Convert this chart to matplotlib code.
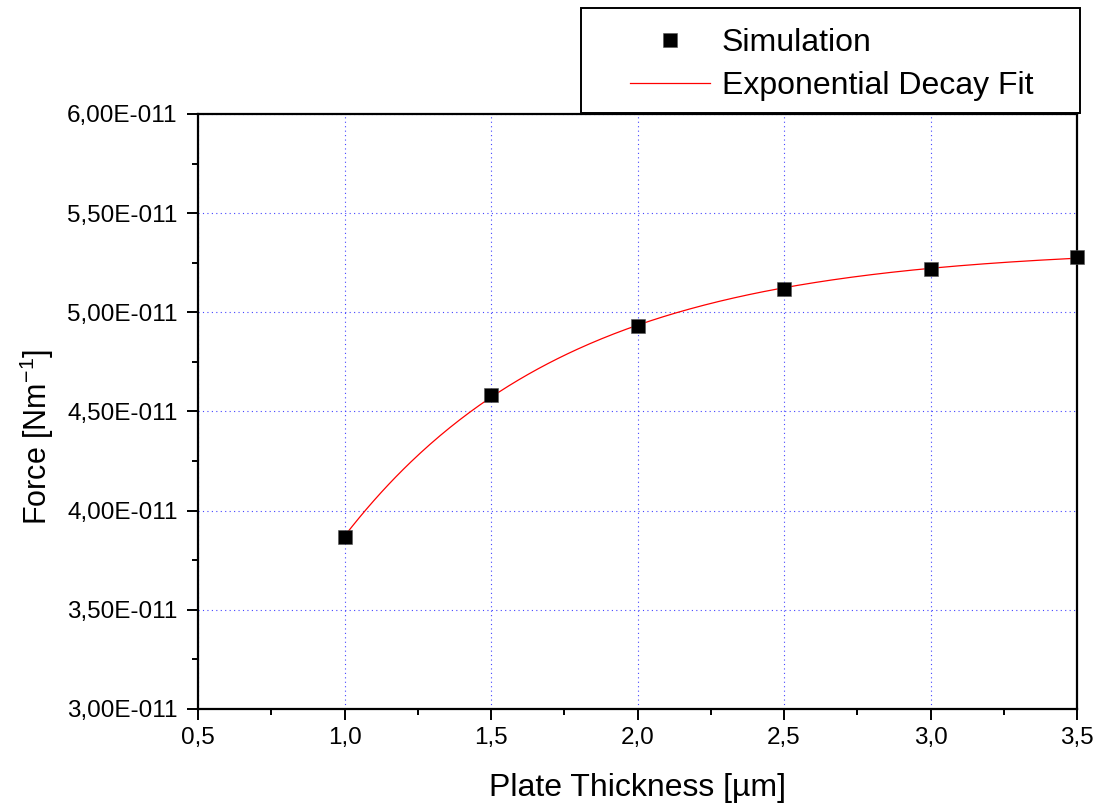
import numpy as np
import matplotlib
matplotlib.use("Agg")
import matplotlib.pyplot as plt
from matplotlib.ticker import FuncFormatter, MultipleLocator
from matplotlib.patches import Rectangle

plt.rcParams["font.family"] = ["Liberation Sans", "DejaVu Sans"]
plt.rcParams["mathtext.default"] = "regular"

# Simulated force versus plate thickness
thickness = [1.0, 1.5, 2.0, 2.5, 3.0, 3.5]          # µm
force = [3.869e-11, 4.581e-11, 4.929e-11, 5.118e-11, 5.221e-11, 5.279e-11]  # N/m

x_ticks = [0.5, 1.0, 1.5, 2.0, 2.5, 3.0, 3.5]
y_ticks = [3.0e-11, 3.5e-11, 4.0e-11, 4.5e-11, 5.0e-11, 5.5e-11, 6.0e-11]


def fit_exp_decay(x, y):
    """Least-squares fit of y = y0 + A*exp(-x/t)."""
    x = np.asarray(x)
    y = np.asarray(y)
    best = None
    for t in np.linspace(0.2, 3.0, 2801):
        M = np.column_stack([np.ones_like(x), np.exp(-x / t)])
        coef, *_ = np.linalg.lstsq(M, y, rcond=None)
        res = np.sum((M @ coef - y) ** 2)
        if best is None or res < best[0]:
            best = (res, coef[0], coef[1], t)
    return best[1:]


y0, A, t1 = fit_exp_decay(thickness, force)
x_fit = np.linspace(thickness[0], thickness[-1], 300)
y_fit = y0 + A * np.exp(-x_fit / t1)

fig = plt.figure(figsize=(11.03, 8.09), dpi=100)
ax = fig.add_axes([198 / 1103, 100 / 809, 879 / 1103, 595 / 809])

line_fit, = ax.plot(x_fit, y_fit, color="red", lw=0.9, zorder=3,
                    label="Exponential Decay Fit")
pts, = ax.plot(thickness, force, ls="none", marker="s", ms=9.5,
               color="black", mec="#555555", mew=0.4, zorder=4,
               clip_on=False, label="Simulation")

ax.set_xlim(x_ticks[0], x_ticks[-1])
ax.set_ylim(y_ticks[0], y_ticks[-1])
ax.set_xticks(x_ticks)
ax.set_yticks(y_ticks)
ax.xaxis.set_minor_locator(MultipleLocator(0.25))
ax.yaxis.set_minor_locator(MultipleLocator(0.25e-11))


def sci_comma(v, pos):
    if v == 0:
        return "0"
    e = int(np.floor(np.log10(abs(v)) + 1e-9))
    m = v / 10 ** e
    return f"{m:.2f}".replace(".", ",") + f"E{e:+04d}"


ax.yaxis.set_major_formatter(FuncFormatter(sci_comma))
ax.xaxis.set_major_formatter(FuncFormatter(lambda v, p: f"{v:.1f}".replace(".", ",")))

ax.grid(True, which="major", color="#3030ff", lw=0.8, ls=(0, (1, 3)), alpha=0.9)
ax.set_axisbelow(True)

for s in ax.spines.values():
    s.set_linewidth(1.6)
ax.tick_params(which="major", direction="out", length=8.2, width=1.4,
               labelsize=17.5, top=False, right=False)
ax.tick_params(which="minor", direction="out", length=4.5, width=1.4,
               top=False, right=False)
ax.tick_params(axis="y", which="major", pad=6.5)
ax.tick_params(axis="x", which="major", pad=5)

ax.set_xlabel("Plate Thickness [µm]", fontsize=23, labelpad=17)
ax.set_ylabel("Force [Nm$^{-1}$]", fontsize=22)
ax.yaxis.set_label_coords(-0.161, 0.457)

# Legend box above the plot frame
box = Rectangle((581 / 1103, 1 - 113 / 809), 499 / 1103, 105 / 809,
                transform=fig.transFigure, facecolor="white",
                edgecolor="black", lw=1.4, zorder=5)
fig.patches.append(box)
leg = fig.legend(handles=[pts, line_fit], loc="upper left",
                 bbox_to_anchor=(630 / 1103, 1 - 28 / 809),
                 frameon=False, fontsize=23, borderpad=0, borderaxespad=0,
                 handlelength=2.5, handletextpad=0.38, labelspacing=0.42,
                 markerscale=1.0)
leg.set_zorder(6)

fig.savefig("out.png", dpi=100)
